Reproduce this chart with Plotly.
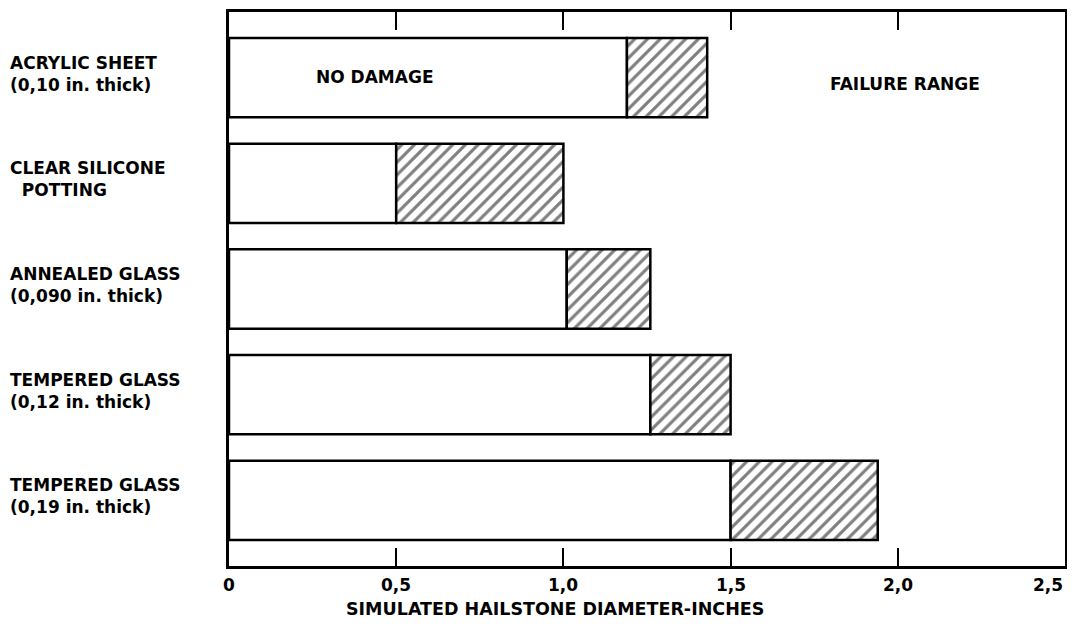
import plotly.graph_objects as go

categories = ["ACRYLIC SHEET<br>(0,10 in. thick)",
              "CLEAR SILICONE<br>  POTTING",
              "ANNEALED GLASS<br>(0,090 in. thick)",
              "TEMPERED GLASS<br>(0,12 in. thick)",
              "TEMPERED GLASS<br>(0,19 in. thick)"]
no_damage_end = [1.19, 0.50, 1.01, 1.26, 1.50]
failure_end = [1.43, 1.00, 1.26, 1.50, 1.94]
tick_vals = [0, 0.5, 1.0, 1.5, 2.0, 2.5]
tick_text = ["0", "0,5", "1,0", "1,5", "2,0", "2,5"]

ypos = list(range(len(categories)))
FONT = "DejaVu Sans"
TF = dict(family=FONT, size=17, color="black", weight="bold")

fig = go.Figure()
fig.add_trace(go.Bar(
    y=ypos, x=no_damage_end, base=[0]*len(ypos), orientation="h", width=0.75,
    marker=dict(color="white", line=dict(color="black", width=2.5)),
    showlegend=False, hoverinfo="skip"))
fig.add_trace(go.Bar(
    y=ypos, x=[f - s for f, s in zip(failure_end, no_damage_end)], base=no_damage_end,
    orientation="h", width=0.75,
    marker=dict(color="white", line=dict(color="black", width=2.5),
                pattern=dict(shape="/", fgcolor="black", bgcolor="white", size=9, solidity=0.35)),
    showlegend=False, hoverinfo="skip"))

for i, c in enumerate(categories):
    fig.add_annotation(x=-0.264, xref="paper", y=i, yref="y", text=c, showarrow=False,
                       xanchor="left", align="left", yshift=4, font=TF)

for v, t in zip(tick_vals, tick_text):
    fig.add_annotation(x=v, y=-0.034, yref="paper", text=t, showarrow=False,
                       xanchor="right" if v == tick_vals[-1] else "center",
                       yanchor="middle", font=TF)

fig.add_annotation(x=0.255, y=0, text="NO DAMAGE", showarrow=False, xanchor="left",
                   yshift=1, font=TF)
fig.add_annotation(x=1.79, y=0, text="FAILURE RANGE", showarrow=False, xanchor="left",
                   yshift=-6, font=TF)
fig.add_annotation(x=0.975, y=-0.077, yref="paper", text="SIMULATED HAILSTONE DIAMETER-INCHES",
                   showarrow=False, xanchor="center", yanchor="middle",
                   font=dict(family=FONT, size=17.5, color="black", weight="bold"))

fig.update_layout(
    width=1059, height=612,
    margin=dict(l=221, r=2, t=4, b=54, autoexpand=False),
    paper_bgcolor="white", plot_bgcolor="white",
    barmode="overlay",
    xaxis=dict(range=[0, 2.5], tickvals=tick_vals, showticklabels=False,
               ticks="inside", ticklen=18, tickwidth=2, tickcolor="black",
               showline=True, linecolor="black", linewidth=2.5, mirror="ticks",
               showgrid=False, zeroline=False, automargin=False),
    yaxis=dict(range=[4.62, -0.62], showticklabels=False, ticks="",
               showline=True, linecolor="black", linewidth=2.5, mirror=True,
               showgrid=False, zeroline=False, automargin=False),
)

fig.write_html("out.html")
